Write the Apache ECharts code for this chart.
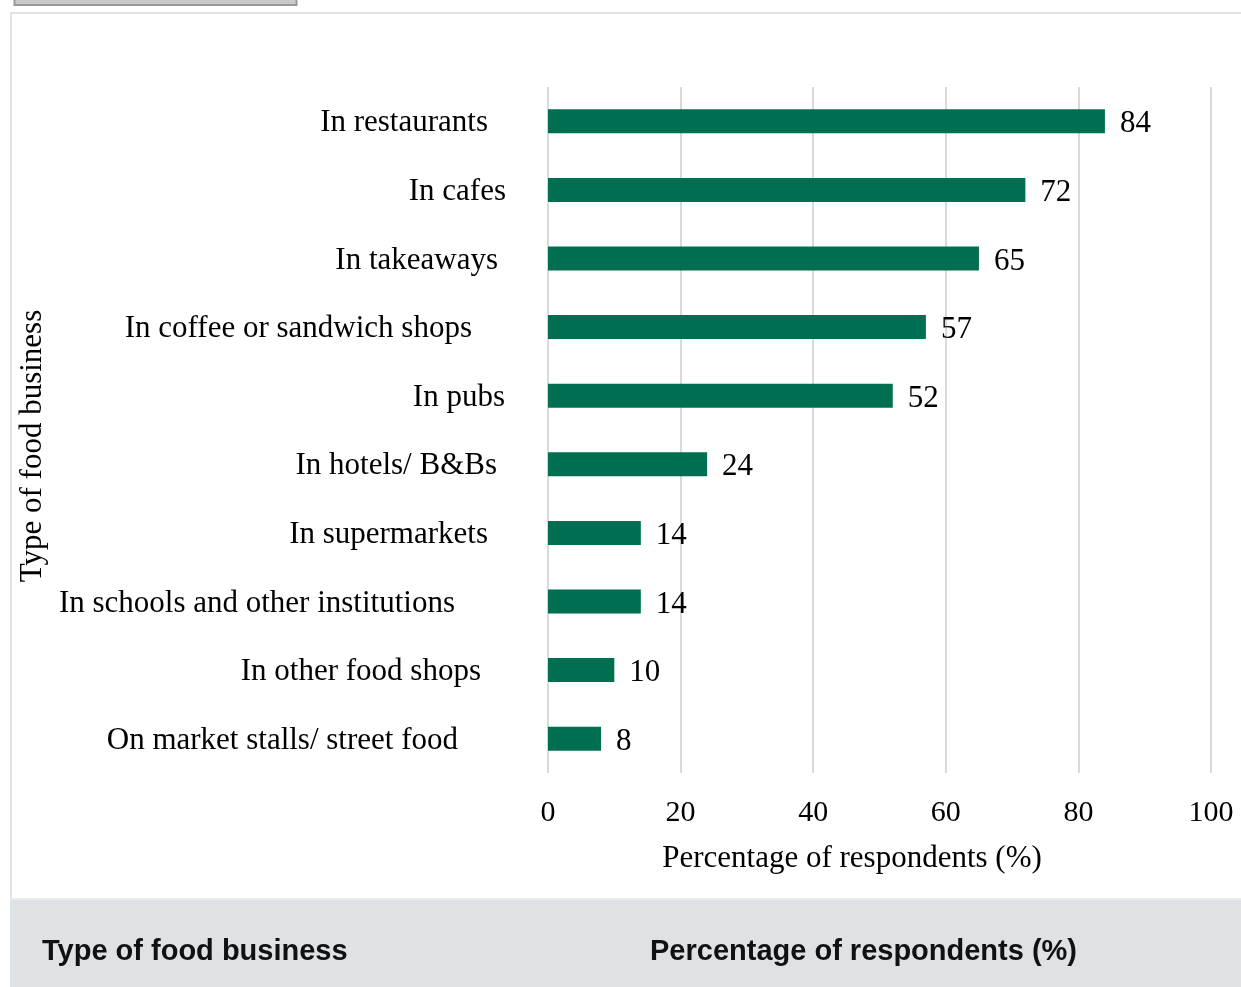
<!DOCTYPE html>
<html>
<head>
<meta charset="utf-8">
<script src="https://cdn.jsdelivr.net/npm/echarts@6/dist/echarts.min.js"></script>
<style>
  html, body { margin: 0; padding: 0; background: #fff; }
  #chart { width: 1241px; height: 987px; }
</style>
</head>
<body>
<div id="chart"></div>
<script>
// Where people reported eating out, by type of food business
const categories = [
  'In restaurants',
  'In cafes',
  'In takeaways',
  'In coffee or sandwich shops',
  'In pubs',
  'In hotels/ B&Bs',
  'In supermarkets',
  'In schools and other institutions',
  'In other food shops',
  'On market stalls/ street food'
];
const percentages = [84, 72, 65, 57, 52, 24, 14, 14, 10, 8];
const xTicks = [0, 20, 40, 60, 80, 100];

const xAxisTitle = 'Percentage of respondents (%)';
const yAxisTitle = 'Type of food business';
const tableHeaders = ['Type of food business', 'Percentage of respondents (%)'];

// extra right-hand padding for each category label (label layout is uneven)
const labelPad = [18, 0, 8, 34, 1, 9, 18, 51, 25, 48];

const serif = '"Liberation Serif", "Times New Roman", serif';
const sans = '"Liberation Sans", Arial, sans-serif';
const rich = {};
labelPad.forEach((p, i) => {
  rich['c' + i] = { fontFamily: serif, fontSize: 31, color: '#000', padding: [4, p, 0, 0] };
});

const chart = echarts.init(document.getElementById('chart'), null, { renderer: 'canvas' });

chart.setOption({
  animation: false,
  backgroundColor: '#ffffff',
  grid: { left: 548, right: 30, top: 87, bottom: 214, containLabel: false },
  xAxis: {
    type: 'value',
    min: xTicks[0],
    max: xTicks[xTicks.length - 1],
    interval: xTicks[1] - xTicks[0],
    name: xAxisTitle,
    nameLocation: 'middle',
    nameGap: 70,
    nameTextStyle: { fontFamily: serif, fontSize: 31, color: '#000', padding: [0, 55, 0, 0] },
    axisLine: { show: false },
    axisTick: { show: false },
    axisLabel: { fontFamily: serif, fontSize: 30, color: '#000', margin: 25 },
    splitLine: { show: true, lineStyle: { color: '#d9d9d9', width: 2 } }
  },
  yAxis: {
    type: 'category',
    data: categories,
    inverse: true,
    name: yAxisTitle,
    nameLocation: 'middle',
    nameRotate: 90,
    nameGap: 500,
    nameTextStyle: { fontFamily: serif, fontSize: 31, color: '#000', padding: [0, 32, 0, 0] },
    axisLine: { show: false },
    axisTick: { show: false },
    axisLabel: {
      margin: 42,
      formatter: (v, i) => '{c' + i + '|' + v + '}',
      rich: rich
    },
    splitLine: { show: false }
  },
  series: [{
    type: 'bar',
    data: percentages,
    barWidth: '35%',
    itemStyle: { color: '#006f51' },
    label: {
      show: true,
      position: 'right',
      distance: 15,
      offset: [0, 3],
      fontFamily: serif,
      fontSize: 31,
      color: '#000'
    }
  }],
  graphic: [
    // button stub at the top
    { type: 'rect', shape: { x: 14.5, y: -3, width: 282, height: 8 },
      style: { fill: '#c9c9c9', stroke: '#9a9a9a', lineWidth: 2 }, silent: true },
    // chart frame
    { type: 'polyline', shape: { points: [[11, 987], [11, 13], [1241, 13]] },
      style: { stroke: '#e2e2e2', lineWidth: 2, fill: null }, silent: true },
    // table header band
    { type: 'rect', shape: { x: 10, y: 898, width: 1231, height: 89 },
      style: { fill: '#dfe2e5' }, silent: true },
    { type: 'line', shape: { x1: 10, y1: 899, x2: 1241, y2: 899 },
      style: { stroke: '#e9ebed', lineWidth: 2 }, silent: true },
    { type: 'text', left: 42, top: 937,
      style: { text: tableHeaders[0], fontFamily: sans,
               fontWeight: 'bold', fontSize: 29, fill: '#111' }, silent: true },
    { type: 'text', left: 650, top: 937,
      style: { text: tableHeaders[1], fontFamily: sans,
               fontWeight: 'bold', fontSize: 29, fill: '#111' }, silent: true }
  ]
});
</script>
</body>
</html>
